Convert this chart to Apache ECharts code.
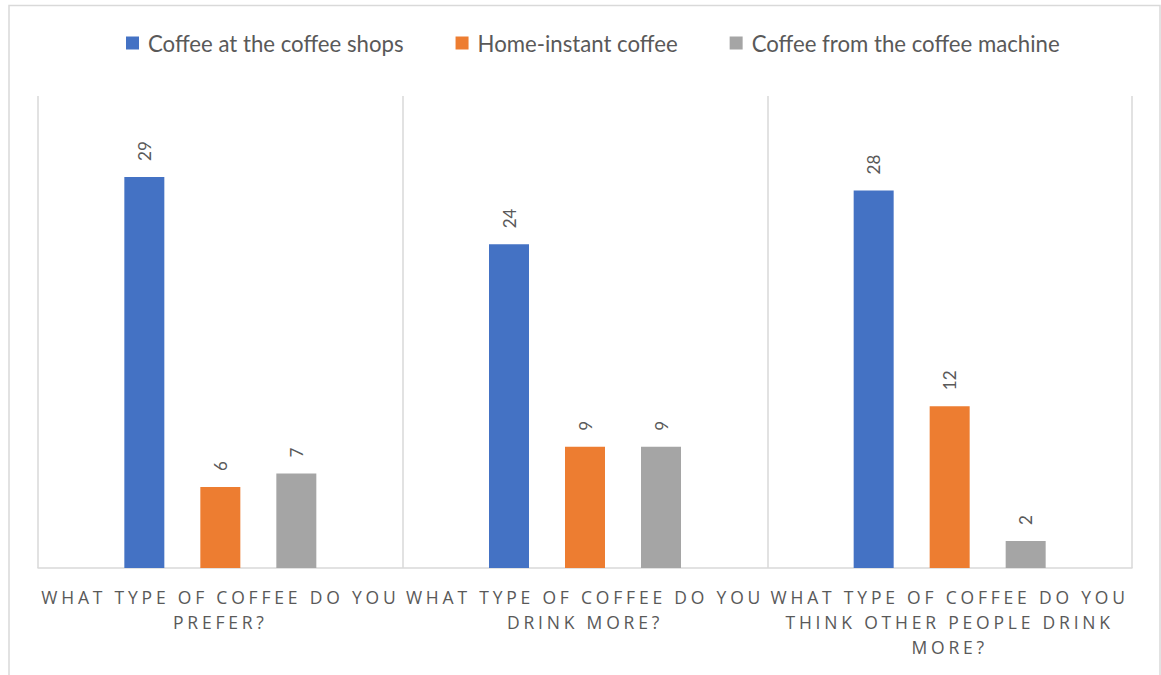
<!DOCTYPE html>
<html>
<head>
<meta charset="utf-8">
<script src="https://cdn.jsdelivr.net/npm/echarts@6/dist/echarts.min.js"></script>
<style>
  html, body { margin: 0; padding: 0; background: #ffffff; }
  #chart { width: 1161px; height: 675px; }
  /* spaced capitals for the question labels under each group */
  #chart text[style*="Open Sans"] { letter-spacing: 3.8px; }
</style>
</head>
<body>
<div id="chart"></div>
<script>
const questions = [
  'What type of coffee do you prefer?',
  'What type of coffee do you drink more?',
  'What type of coffee do you think other people drink more?'
];
const seriesNames = [
  'Coffee at the coffee shops',
  'Home-instant coffee',
  'Coffee from the coffee machine'
];
const coffeeShops = [29, 24, 28];
const homeInstant = [6, 9, 12];
const coffeeMachine = [7, 9, 2];
const seriesColors = ['#4472C4', '#ED7D31', '#A5A5A5'];

// wrap an upper-cased question at word boundaries
function wrapLabel(text, maxChars) {
  const words = text.toUpperCase().split(' ');
  const lines = [];
  let line = '';
  for (const w of words) {
    const next = line ? line + ' ' + w : w;
    if (next.length > maxChars && line) { lines.push(line); line = w; }
    else line = next;
  }
  if (line) lines.push(line);
  return lines.join('\n');
}

const chart = echarts.init(document.getElementById('chart'), null, { renderer: 'svg' });

const valueLabel = {
  show: true,
  position: 'top',
  rotate: 90,
  align: 'left',
  verticalAlign: 'middle',
  distance: 16,
  color: '#595959',
  fontFamily: 'Lato',
  fontSize: 17
};

const valueSets = [coffeeShops, homeInstant, coffeeMachine];

chart.setOption({
  animation: false,
  backgroundColor: '#ffffff',
  graphic: [{
    type: 'rect',
    shape: { x: 9, y: 5.5, width: 1151, height: 700 },
    style: { fill: 'none', stroke: '#d9d9d9', lineWidth: 1.5 },
    silent: true
  }],
  legend: {
    top: 27,
    left: 121,
    itemWidth: 13,
    itemHeight: 13,
    itemGap: 52,
    icon: 'rect',
    textStyle: { color: '#595959', fontFamily: 'Lato', fontSize: 22.2, padding: [0, 0, 0, 4] },
    data: seriesNames
  },
  grid: { left: 38, right: 29, top: 96, bottom: 107, containLabel: false },
  xAxis: {
    type: 'category',
    data: questions,
    boundaryGap: true,
    axisLine: { show: true, lineStyle: { color: '#d9d9d9', width: 1.5 } },
    axisTick: { show: false },
    splitLine: { show: true, lineStyle: { color: '#d9d9d9', width: 1.5 } },
    axisLabel: {
      interval: 0,
      margin: 16.5,
      color: '#595959',
      fontFamily: 'Open Sans',
      fontSize: 17.5,
      lineHeight: 25,
      formatter: v => wrapLabel(v, 26)
    }
  },
  yAxis: {
    type: 'value',
    min: 0,
    max: 35,
    show: false,
    splitLine: { show: false }
  },
  series: seriesNames.map((name, i) => ({
    name,
    type: 'bar',
    data: valueSets[i],
    barWidth: 40,
    barGap: '90%',
    itemStyle: { color: seriesColors[i] },
    label: valueLabel
  }))
});
</script>
</body>
</html>
